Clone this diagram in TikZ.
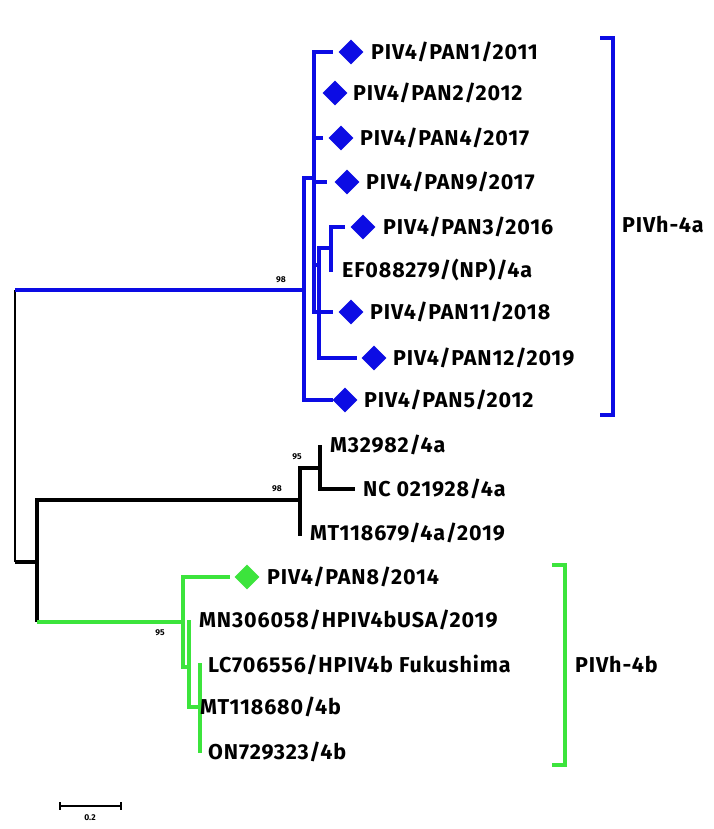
\documentclass[tikz,border=0pt]{standalone}
\usepackage{fontspec}
\setmainfont{Fira Sans}
\newfontfamily\tipfont[LetterSpace=4]{Fira Sans}
\usetikzlibrary{shapes.geometric}
\definecolor{cladeblue}{RGB}{12,12,228}
\definecolor{cladegreen}{RGB}{60,228,60}
\begin{document}
\begin{tikzpicture}[x=1pt,y=-1pt,
  tip/.style={anchor=base west, inner sep=0pt, font=\tipfont\fontsize{21.5}{21.5}\selectfont\bfseries},
  clade/.style={anchor=base west, inner sep=0pt, font=\tipfont\fontsize{21.5}{21.5}\selectfont\bfseries},
  boot/.style={inner sep=0pt, font=\fontsize{8.5}{8.5}\selectfont\bfseries},
  bdia/.style={diamond, fill=cladeblue, minimum width=25pt, minimum height=25pt, inner sep=0pt},
  gdia/.style={diamond, fill=cladegreen, minimum width=25pt, minimum height=25pt, inner sep=0pt},
  bbr/.style={draw=cladeblue, line width=4pt},
  kbr/.style={draw=black, line width=3.8pt},
  gbr/.style={draw=cladegreen, line width=3.2pt},
  rootline/.style={draw=black, line width=1.8pt},
  bbrk/.style={draw=cladeblue, line width=3.2pt},
  gbrk/.style={draw=cladegreen, line width=3.2pt},
  sbar/.style={draw=black, line width=1.6pt}]
\useasboundingbox[fill=white] (0,0) rectangle (714,829);

% ---------- root ----------
\coordinate (rt) at (15,290);
\coordinate (rb) at (15,562);
\draw[rootline] (rt) -- (rb);

% ---------- blue clade ----------
\coordinate (b0) at (304,290);
\coordinate (b1) at (314,178);
\coordinate (b2) at (319,265);
\coordinate (b3) at (331,248);
\coordinate (e1) at (333,52);
\coordinate (e4) at (323,138);
\coordinate (e9) at (327,182);
\coordinate (e3) at (345,227);
\coordinate (eEF) at (331,272);
\coordinate (e11) at (333,312);
\coordinate (e12) at (357,358);
\coordinate (e5) at (333,400);

\draw[bbr] (rt) -- (b0);
\draw[bbr] (b0) |- (b1);
\draw[bbr] (b0) |- (e5);
\draw[bbr] (b1) |- (e1);
\draw[bbr] (b1) |- (e11);
\draw[bbr] (b1 |- e4) -- (e4);
\draw[bbr] (b1 |- e9) -- (e9);
\draw[bbr] (b1 |- b2) -- (b2);
\draw[bbr] (b2) |- (b3);
\draw[bbr] (b2) |- (e12);
\draw[bbr] (b3) |- (e3);
\draw[bbr] (b3) -- (eEF);

\node[bdia] (d1) at (351,52) {};
\node[bdia] (d2) at (335,93) {};
\node[bdia] (d4) at (341,138) {};
\node[bdia] (d9) at (347,182) {};
\node[bdia] (d3) at (363,227) {};
\node[bdia] (d11) at (351,312) {};
\node[bdia] (d12) at (374,358) {};
\node[bdia] (d5) at (345,400) {};

\node[tip] (t1) at (371,59.5) {PIV4/PAN1/2011};
\node[tip] (t2) at (353,100.5) {PIV4/PAN2/2012};
\node[tip] (t4) at (360,145.5) {PIV4/PAN4/2017};
\node[tip] (t9) at (366,189.5) {PIV4/PAN9/2017};
\node[tip] (t3) at (383,234.5) {PIV4/PAN3/2016};
\node[tip] (tEF) at (342,277.5) {EF088279/(NP)/4a};
\node[tip] (t11) at (370,319.5) {PIV4/PAN11/2018};
\node[tip] (t12) at (393,365.5) {PIV4/PAN12/2019};
\node[tip] (t5) at (364,407.5) {PIV4/PAN5/2012};

\node[boot] (bs1) at (281,280) {98};

% ---------- black clade ----------
\coordinate (k0) at (37,562);
\coordinate (k1) at (300,500);
\coordinate (k2) at (320,468);
\coordinate (m3) at (320,445);
\coordinate (nc) at (355,489);
\coordinate (mt) at (300,536);
\coordinate (g0) at (183,622);

\draw[kbr] (rb) -- (k0);
\draw[kbr] (k0) |- (k1);
\draw[kbr] (k0) -- (k0 |- g0);
\draw[kbr] (k1) |- (k2);
\draw[kbr] (k1) -- (mt);
\draw[kbr] (k2) -- (m3);
\draw[kbr] (k2) |- (nc);

\node[tip] (tM3) at (330,452.5) {M32982/4a};
\node[tip] (tNC) at (363,496.5) {NC 021928/4a};
\node[tip] (tMT) at (310,540.5) {MT118679/4a/2019};

\node[boot] (bs2) at (277,489) {98};
\node[boot] (bs3) at (297,457) {95};

% ---------- green clade ----------
\coordinate (p8) at (230,577);
\coordinate (g1) at (189,667);
\coordinate (g2) at (200,707);
\coordinate (mn) at (189,620);
\coordinate (lc) at (200,663);
\coordinate (on) at (200,753);

\draw[gbr] (k0 |- g0) -- (g0);
\draw[gbr] (g0) |- (p8);
\draw[gbr] (g0) |- (g1);
\draw[gbr] (g1) -- (mn);
\draw[gbr] (g1) |- (g2);
\draw[gbr] (lc) -- (on);

\node[gdia] (d8) at (247,577) {};
\node[tip] (t8) at (267,584.5) {PIV4/PAN8/2014};
\node[tip] (tMN) at (199,627.5) {MN306058/HPIV4bUSA/2019};
\node[tip] (tLC) at (208,672.5) {LC706556/HPIV4b Fukushima};
\node[tip] (tMT2) at (200,714.5) {MT118680/4b};
\node[tip] (tON) at (208,759.5) {ON729323/4b};

\node[boot] (bs4) at (160,633) {95};

% ---------- brackets ----------
\coordinate (ba1) at (600,38);
\coordinate (ba2) at (613,415);
\coordinate (ba3) at (600,415);
\draw[bbrk] (ba1) -| (ba2) -- (ba3);
\node[clade] (la) at (622,232.5) {PIVh-4a};

\coordinate (bg1) at (552,565);
\coordinate (bg2) at (565,765);
\coordinate (bg3) at (552,765);
\draw[gbrk] (bg1) -| (bg2) -- (bg3);
\node[clade] (lb) at (575,672.5) {PIVh-4b};

% ---------- scale bar ----------
\coordinate (s1) at (60,806);
\coordinate (s2) at (121,806);
\draw[sbar] (s1) -- (s2);
\draw[sbar] ([yshift=4pt]s1) -- ([yshift=-4pt]s1);
\draw[sbar] ([yshift=4pt]s2) -- ([yshift=-4pt]s2);
\node[boot] (sl) at (90,818) {0.2};
\end{tikzpicture}
\end{document}
